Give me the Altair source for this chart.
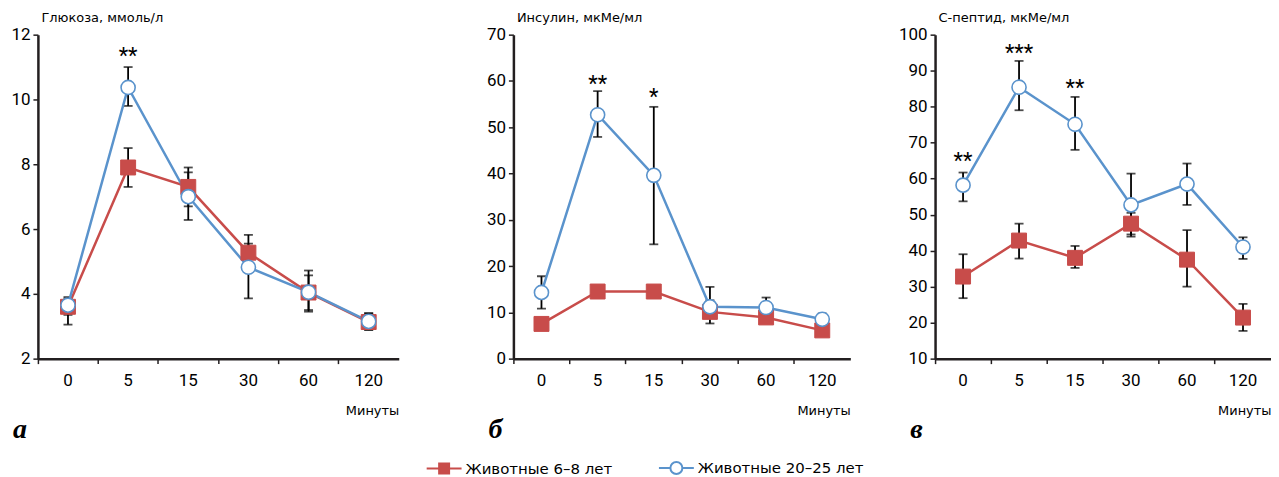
import altair as alt
import pandas as pd

cats = ["0", "5", "15", "30", "60", "120"]
series = ["Животные 6–8 лет", "Животные 20–25 лет"]
RED = "#c84c4a"
BLUE = "#5a93cc"
INK = "#231f20"

# Глюкоза, ммоль/л
glu_r = [3.6, 7.9, 7.3, 5.27, 4.04, 3.13]
glu_r_lo = [3.35, 7.3, 6.7, 4.95, 3.5, 2.9]
glu_r_hi = [3.85, 8.5, 7.9, 5.55, 4.57, 3.4]
glu_b = [3.65, 10.37, 7.0, 4.82, 4.05, 3.15]
glu_b_lo = [3.05, 9.8, 6.28, 3.86, 3.45, 2.88]
glu_b_hi = [3.9, 11.0, 7.75, 5.82, 4.72, 3.4]

# Инсулин, мкМе/мл
ins_r = [7.5, 14.5, 14.5, 10.1, 8.9, 6.1]
ins_r_lo = [6.5, 13.3, 13.4, 7.6, 8.0, 5.3]
ins_r_hi = [8.5, 15.6, 15.6, 12.6, 9.8, 6.9]
ins_b = [14.3, 52.7, 39.6, 11.2, 11.05, 8.5]
ins_b_lo = [10.8, 47.9, 24.7, 9.0, 9.5, 7.8]
ins_b_hi = [17.8, 57.8, 54.4, 15.5, 13.2, 9.75]

# С-пептид, мкМе/мл
cp_r = [32.8, 42.8, 38.0, 47.5, 37.5, 21.4]
cp_r_lo = [26.8, 37.8, 35.2, 43.9, 30.0, 17.7]
cp_r_hi = [39.0, 47.5, 41.3, 50.5, 45.7, 25.2]
cp_b = [58.2, 85.4, 75.1, 52.7, 58.5, 41.0]
cp_b_lo = [53.7, 79.0, 68.0, 44.5, 52.7, 37.7]
cp_b_hi = [61.7, 92.7, 82.7, 61.4, 64.2, 43.7]

# significance marks
glu_star_t = ["5"]
glu_star_y = [11.45]
glu_star_s = ["**"]
ins_star_t = ["5", "15"]
ins_star_y = [60.3, 57.4]
ins_star_s = ["**", "*"]
cp_star_t = ["0", "5", "15"]
cp_star_y = [66.0, 95.9, 86.3]
cp_star_s = ["**", "***", "**"]

PATH_SQ = "M-3.5,0H3.5M-1,-1H1V1H-1Z"
PATH_CI = "M-3.5,0H-1.2M1.2,0H3.5M1.2,0A1.2,1.2,0,1,1,-1.2,0A1.2,1.2,0,1,1,1.2,0Z"

H = 325
FONT = "Roboto"
TFONT = "DejaVu Sans"


def panel(r, r_lo, r_hi, b, b_lo, b_hi, ydom, yvals, ytitle, letter,
          st_t, st_y, st_s, width, with_legend):
    rows = []
    for i, c in enumerate(cats):
        rows.append({"t": c, "series": series[0], "m": r[i], "lo": r_lo[i], "hi": r_hi[i]})
    for i, c in enumerate(cats):
        rows.append({"t": c, "series": series[1], "m": b[i], "lo": b_lo[i], "hi": b_hi[i]})
    df = pd.DataFrame(rows)
    stars = pd.DataFrame({"t": st_t, "y": st_y, "s": st_s})

    X = alt.X("t:N", sort=cats,
              scale=alt.Scale(type="band", domain=cats, paddingInner=0, paddingOuter=0),
              axis=alt.Axis(title="Минуты", titleX=width, titleY=56, titleAlign="right",
                            titleAnchor="end", titleBaseline="alphabetic", titleFontSize=13,
                            titleFontWeight="normal", titleFont=TFONT, titleColor="black",
                            labelAngle=0, bandPosition=0, labelPadding=9, grid=False,
                            domainColor=INK, domainWidth=2.5, tickColor=INK, tickWidth=1.5,
                            tickSize=5, labelFont=FONT, labelFontSize=17, labelColor="black"))
    yscale = alt.Scale(domain=ydom, nice=False, zero=False)
    yaxis = alt.Axis(title=ytitle, titleAngle=0, titleAlign="left", titleX=3, titleY=-13,
                     titleBaseline="alphabetic", titleFontSize=13, titleFontWeight="normal",
                     titleFont=TFONT, titleColor="black", values=yvals, labelPadding=3,
                     labelOverlap=False, grid=False,
                     domainColor=INK, domainWidth=2.5, tickColor=INK, tickWidth=1.5,
                     tickSize=5, labelFont=FONT, labelFontSize=17, labelColor="black")

    def Y(f):
        return alt.Y(f, scale=yscale, axis=yaxis)

    base = alt.Chart(df)
    stem = base.mark_rule(color="black", strokeWidth=1.8).encode(x=X, y=Y("lo:Q"), y2="hi:Q")
    cap_hi = base.mark_tick(color="black", size=9, thickness=1.8, orient="horizontal").encode(x=X, y=Y("hi:Q"))
    cap_lo = base.mark_tick(color="black", size=9, thickness=1.8, orient="horizontal").encode(x=X, y=Y("lo:Q"))
    line = base.mark_line(strokeWidth=2.5).encode(
        x=X, y=Y("m:Q"), detail="series:N",
        color=alt.Color("series:N", scale=alt.Scale(domain=series[::-1], range=[BLUE, RED]), legend=None),
        order=alt.Order("series:N"))
    sq = base.transform_filter(alt.datum.series == series[0]).mark_point(
        shape="square", size=225, filled=True, fill=RED, stroke=RED, strokeWidth=1, opacity=1).encode(x=X, y=Y("m:Q"))
    ci = base.transform_filter(alt.datum.series == series[1]).mark_point(
        shape="circle", size=200, filled=True, fill="white", stroke=BLUE, strokeWidth=1.6, opacity=1).encode(x=X, y=Y("m:Q"))
    txt = alt.Chart(stars).mark_text(font=FONT, fontSize=22, color="black", baseline="middle", dy=4).encode(
        x=X, y=Y("y:Q"), text="s:N")
    layers = [stem, cap_hi, cap_lo, line, sq, ci, txt]
    if with_legend:
        leg = alt.Legend(title=None, orient="none", legendX=400, legendY=427, direction="horizontal",
                         symbolSize=100, symbolStrokeWidth=2, labelFont=TFONT, labelFontSize=15,
                         labelColor="black", labelOffset=14, columnPadding=42, labelLimit=400)
        lg = base.transform_filter("false").mark_point(opacity=1, filled=True, strokeWidth=2).encode(
            x=X, y=Y("m:Q"),
            shape=alt.Shape("series:N", scale=alt.Scale(domain=series, range=[PATH_SQ, PATH_CI]), legend=leg),
            fill=alt.Fill("series:N", scale=alt.Scale(domain=series, range=[RED, "white"]), legend=leg),
            stroke=alt.Stroke("series:N", scale=alt.Scale(domain=series, range=[RED, BLUE]), legend=leg))
        layers.append(lg)
    return alt.layer(*layers).properties(
        width=width, height=H,
        title=alt.TitleParams(letter, orient="bottom", anchor="start", frame="group", dx=-25, offset=-1,
                              font="Liberation Serif", fontSize=28, fontStyle="italic",
                              fontWeight="bold", color="black"))


def spacer(w):
    return alt.Chart(pd.DataFrame({"v": [0]})).mark_text(text="").encode(
        x=alt.value(0), y=alt.value(0)).properties(width=w, height=H)


pa = panel(glu_r, glu_r_lo, glu_r_hi, glu_b, glu_b_lo, glu_b_hi, [2, 12], [2, 4, 6, 8, 10, 12],
           "Глюкоза, ммоль/л", "а", glu_star_t, glu_star_y, glu_star_s, 362, True)
pb = panel(ins_r, ins_r_lo, ins_r_hi, ins_b, ins_b_lo, ins_b_hi, [0, 70], [0, 10, 20, 30, 40, 50, 60, 70],
           "Инсулин, мкМе/мл", "б", ins_star_t, ins_star_y, ins_star_s, 338, False)
pc = panel(cp_r, cp_r_lo, cp_r_hi, cp_b, cp_b_lo, cp_b_hi, [10, 100], [10, 20, 30, 40, 50, 60, 70, 80, 90, 100],
           "С-пептид, мкМе/мл", "в", cp_star_t, cp_star_y, cp_star_s, 337, False)

chart = alt.hconcat(pa, spacer(115), pb, spacer(85), pc, spacing=0, bounds="flush").properties(
    padding={"left": 2, "top": 3, "right": 0, "bottom": 0},
    background="white"
).configure_view(strokeWidth=0)

chart.save("out.html", embed_options={"renderer": "svg", "actions": False})
